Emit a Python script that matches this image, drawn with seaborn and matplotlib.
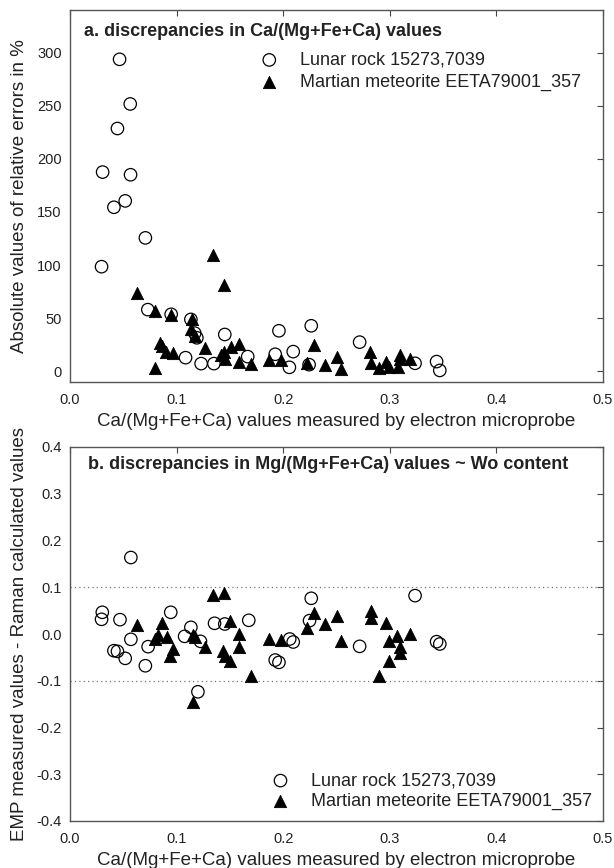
import matplotlib
matplotlib.use("Agg")
import matplotlib.pyplot as plt
import seaborn as sns
import pandas as pd

sns.set_style("white")
plt.rcParams['font.family'] = ['Liberation Sans', 'DejaVu Sans']

# ---- data: panel a (absolute relative errors, %) ----
lunar_x_a = [0.0465, 0.0565, 0.0445, 0.0306, 0.0568, 0.0518, 0.0412, 0.0707, 0.0296,
             0.0730, 0.0949, 0.1134, 0.1190, 0.1170, 0.1452, 0.1084, 0.1230, 0.1350,
             0.1667, 0.1960, 0.1925, 0.2094, 0.2058, 0.2263, 0.2243, 0.2717, 0.3237,
             0.3439, 0.3469]
lunar_y_a = [293.6, 251.6, 228.5, 187.5, 185.0, 160.4, 154.4, 125.6, 98.5,
             58.1, 53.7, 48.9, 31.6, 36.0, 34.7, 12.9, 7.3, 7.3,
             13.9, 38.2, 16.1, 18.6, 3.8, 42.9, 6.3, 27.5, 7.6,
             9.2, 0.9]

mars_x_a = [0.1346, 0.1445, 0.0624, 0.0793, 0.0949, 0.1147, 0.1134, 0.1170, 0.0844,
            0.0860, 0.0896, 0.0968, 0.1266, 0.1584, 0.1515, 0.1445, 0.1455, 0.1420,
            0.1584, 0.1697, 0.0793, 0.1870, 0.1975, 0.2293, 0.2224, 0.2392, 0.2508,
            0.2541, 0.2813, 0.2823, 0.2896, 0.2969, 0.2995, 0.3078, 0.3094, 0.3100,
            0.3194]
mars_y_a = [109.8, 80.8, 73.5, 56.5, 53.0, 48.9, 39.5, 33.0, 27.1,
            23.5, 18.3, 17.4, 22.4, 26.2, 23.0, 18.3, 12.0, 15.0,
            8.8, 7.3, 3.2, 10.4, 10.4, 24.6, 8.2, 5.7, 13.6,
            2.5, 18.3, 8.2, 3.5, 8.8, 4.1, 4.1, 15.2, 12.0,
            11.4]

# ---- data: panel b (EMP - Raman differences) ----
lunar_x_b = [0.0571, 0.0303, 0.0296, 0.0469, 0.0945, 0.2263, 0.3237, 0.2247, 0.1677,
             0.1356, 0.1452, 0.1134, 0.1075, 0.1224, 0.0571, 0.0733, 0.0412, 0.0445,
             0.0518, 0.0707, 0.1200, 0.2061, 0.2094, 0.1925, 0.1960, 0.2717, 0.3439,
             0.3469]
lunar_y_b = [0.1636, 0.0464, 0.0314, 0.0307, 0.0464, 0.0764, 0.0821, 0.0286, 0.0293,
             0.0229, 0.0214, 0.0143, -0.0050, -0.0157, -0.0114, -0.0271, -0.0357, -0.0371,
             -0.0521, -0.0679, -0.1236, -0.0107, -0.0171, -0.0557, -0.0607, -0.0264, -0.0164,
             -0.0214]

mars_x_b = [0.1346, 0.1445, 0.0630, 0.0859, 0.0793, 0.0830, 0.0909, 0.0968, 0.0942,
            0.1151, 0.1174, 0.1266, 0.1505, 0.1588, 0.1588, 0.1439, 0.1455, 0.1498,
            0.1697, 0.1154, 0.1870, 0.1975, 0.2224, 0.2293, 0.2392, 0.2508, 0.2541,
            0.2820, 0.2823, 0.2969, 0.3068, 0.2995, 0.3094, 0.3094, 0.2995, 0.2896,
            0.3194]
mars_y_b = [0.0836, 0.0886, 0.0200, 0.0229, -0.0107, -0.0030, -0.0071, -0.0320, -0.0460,
            -0.0014, -0.0070, -0.0286, 0.0271, 0.0000, -0.0286, -0.0357, -0.0460, -0.0570,
            -0.0893, -0.1464, -0.0107, -0.0120, 0.0129, 0.0450, 0.0214, 0.0393, -0.0143,
            0.0500, 0.0343, 0.0229, -0.0050, -0.0143, -0.0286, -0.0414, -0.0570, -0.0907,
            0.0000]

lunar_label = "Lunar rock 15273,7039"
mars_label = "Martian meteorite EETA79001_357"

W, H = 614, 868
fig = plt.figure(figsize=(W/100, H/100), dpi=100)
L, R = 70, 603
ax1 = fig.add_axes([L/W, 1-382/H, (R-L)/W, (382-10)/H])
ax2 = fig.add_axes([L/W, 1-821/H, (R-L)/W, (821-447)/H])

def draw(ax, lx, ly, mx, my):
    sns.scatterplot(x=mx, y=my, ax=ax, marker="^", s=78, color="black",
                    edgecolor="black", linewidth=0.6, label=mars_label, zorder=3)
    sns.scatterplot(x=lx, y=ly, ax=ax, marker="o", s=80, facecolor="none",
                    edgecolor="black", linewidth=0.9, label=lunar_label, zorder=4)

draw(ax1, lunar_x_a, lunar_y_a, mars_x_a, mars_y_a)
draw(ax2, lunar_x_b, lunar_y_b, mars_x_b, mars_y_b)

for ax in (ax1, ax2):
    ax.set_xlim(0, 0.5)
    ax.set_xticks([0, 0.1, 0.2, 0.3, 0.4, 0.5])
    ax.set_xticklabels(["0.0", "0.1", "0.2", "0.3", "0.4", "0.5"])
    ax.tick_params(direction="in", length=4.5, width=0.8, top=True, right=True,
                   labelsize=10.5, colors="#444444", labelcolor="#222222")
    ax.tick_params(axis="x", pad=8)
    ax.tick_params(axis="y", pad=6)
    for sp in ax.spines.values():
        sp.set_color("#555555")
        sp.set_linewidth(1.0)
    ax.set_xlabel("Ca/(Mg+Fe+Ca) values measured by electron microprobe", fontsize=13.5,
                  color="#222222")
    ax.xaxis.set_label_coords(0.5, -0.082)
    ax.yaxis.set_label_coords(-0.078, 0.5)

ax1.set_ylim(-10, 340)
ax1.set_yticks([0, 50, 100, 150, 200, 250, 300])
ax1.set_ylabel("Absolute values of relative errors in %", fontsize=13.5, color="#222222")
ax1.text(0.026, 0.942, "a. discrepancies in Ca/(Mg+Fe+Ca) values", transform=ax1.transAxes,
         fontsize=13, fontweight="bold", va="center", ha="left", color="#222222")

ax2.set_ylim(-0.4, 0.4)
ax2.set_yticks([-0.4, -0.3, -0.2, -0.1, 0.0, 0.1, 0.2, 0.3, 0.4])
ax2.set_yticklabels(["-0.4", "-0.3", "-0.2", "-0.1", "0.0", "0.1", "0.2", "0.3", "0.4"])
ax2.axhline(0.1, color="#777777", linestyle=(0, (1, 2.5)), linewidth=0.9, zorder=1)
ax2.axhline(-0.1, color="#777777", linestyle=(0, (1, 2.5)), linewidth=0.9, zorder=1)
ax2.set_ylabel("EMP measured values - Raman calculated values", fontsize=13.5, color="#222222")
ax2.text(0.033, 0.952, "b. discrepancies in Mg/(Mg+Fe+Ca) values ~ Wo content", transform=ax2.transAxes,
         fontsize=13, fontweight="bold", va="center", ha="left", color="#222222")

def legend(ax, loc, anchor, spacing):
    h, l = ax.get_legend_handles_labels()
    order = [l.index(lunar_label), l.index(mars_label)]
    leg = ax.legend([h[i] for i in order], [l[i] for i in order], loc=loc, bbox_to_anchor=anchor,
                    frameon=False, fontsize=13, handletextpad=0.7, labelspacing=spacing,
                    borderpad=0, borderaxespad=0)
    for t in leg.get_texts():
        t.set_color("#222222")

legend(ax1, "upper left", (0.34, 0.888), 0.28)
legend(ax2, "lower left", (0.361, 0.03), 0.18)

fig.savefig("out.png", dpi=100)
